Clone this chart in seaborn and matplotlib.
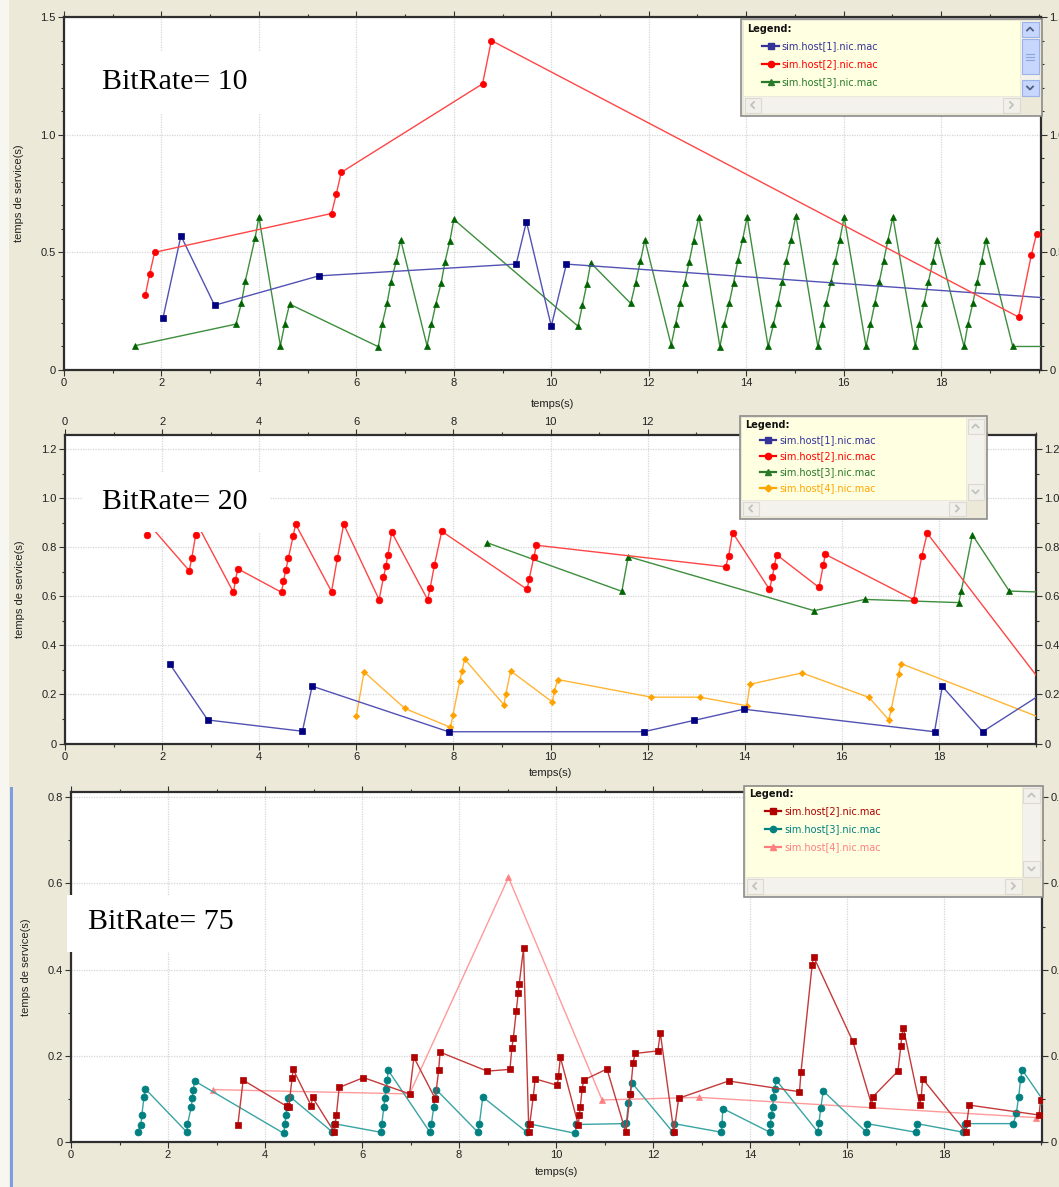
import numpy as np
import pandas as pd
import matplotlib
matplotlib.use("Agg")
import matplotlib.pyplot as plt
import seaborn as sns
from matplotlib.patches import Rectangle
from matplotlib.lines import Line2D
from matplotlib.ticker import MultipleLocator, FuncFormatter

# ---------------- data: panel 1 (BitRate = 10) ----------------
p1_h1_t = [2.03, 2.40, 3.09, 5.23, 9.28, 9.49, 10.00, 10.31, 20.6]
p1_h1_s = [0.22, 0.57, 0.275, 0.40, 0.45, 0.63, 0.186, 0.45, 0.30]

p1_h2_t = [1.67, 1.76, 1.86, 5.49, 5.59, 5.69, 8.59, 8.77, 19.59, 19.85, 19.96]
p1_h2_s = [0.32, 0.41, 0.50, 0.665, 0.75, 0.84, 1.216, 1.40, 0.225, 0.487, 0.58]

p1_h3_t = [1.45, 3.53, 3.64, 3.72, 3.92, 4.00, 4.44, 4.53, 4.63,
           6.45, 6.53, 6.63, 6.71, 6.82, 6.91,
           7.45, 7.54, 7.63, 7.74, 7.82, 7.92, 8.00,
           10.55, 10.64, 10.73, 10.81,
           11.63, 11.73, 11.83, 11.92,
           12.46, 12.55, 12.64, 12.74, 12.83, 12.92, 13.03,
           13.46, 13.55, 13.65, 13.74, 13.83, 13.93, 14.02,
           14.45, 14.56, 14.65, 14.74, 14.82, 14.92, 15.02,
           15.47, 15.56, 15.64, 15.74, 15.83, 15.92, 16.01,
           16.46, 16.55, 16.64, 16.73, 16.82, 16.91, 17.01,
           17.47, 17.55, 17.65, 17.74, 17.83, 17.92,
           18.47, 18.55, 18.65, 18.74, 18.83, 18.92,
           19.47, 20.6]
p1_h3_s = [0.103, 0.195, 0.284, 0.377, 0.56, 0.65, 0.103, 0.195, 0.28,
           0.099, 0.195, 0.284, 0.374, 0.463, 0.553,
           0.103, 0.194, 0.28, 0.37, 0.46, 0.55, 0.64,
           0.186, 0.277, 0.366, 0.455,
           0.283, 0.37, 0.463, 0.553,
           0.106, 0.194, 0.283, 0.37, 0.46, 0.55, 0.65,
           0.099, 0.194, 0.283, 0.37, 0.466, 0.558, 0.65,
           0.10, 0.194, 0.283, 0.374, 0.463, 0.553, 0.656,
           0.10, 0.194, 0.283, 0.374, 0.463, 0.553, 0.65,
           0.10, 0.194, 0.283, 0.374, 0.463, 0.553, 0.65,
           0.10, 0.194, 0.283, 0.374, 0.463, 0.553,
           0.10, 0.194, 0.283, 0.374, 0.463, 0.553,
           0.10, 0.10]

# ---------------- data: panel 2 (BitRate = 20) ----------------
p2_h1_t = [2.16, 2.94, 4.89, 5.09, 7.90, 11.92, 12.95, 13.98, 17.91, 18.07, 18.90, 20.6]
p2_h1_s = [0.324, 0.096, 0.05, 0.234, 0.048, 0.048, 0.094, 0.14, 0.048, 0.233, 0.048, 0.264]

p2_h2_t = [1.69, 1.75, 2.56, 2.61, 2.69, 2.73, 3.47, 3.51, 3.56, 4.46, 4.50, 4.55, 4.60,
           4.70, 4.75, 5.49, 5.61, 5.74, 6.47, 6.56, 6.61, 6.65, 6.73, 7.47, 7.52, 7.61,
           7.76, 9.52, 9.56, 9.66, 9.71, 13.61, 13.67, 13.75, 14.51, 14.57, 14.61, 14.66,
           15.53, 15.62, 15.66, 17.48, 17.65, 17.76, 20.6]
p2_h2_s = [0.851, 0.89, 0.705, 0.756, 0.849, 0.893, 0.617, 0.667, 0.713, 0.617, 0.663, 0.709, 0.756,
           0.847, 0.895, 0.62, 0.756, 0.895, 0.587, 0.679, 0.724, 0.77, 0.862, 0.587, 0.633, 0.729,
           0.866, 0.629, 0.671, 0.763, 0.809, 0.721, 0.767, 0.861, 0.629, 0.679, 0.725, 0.77,
           0.637, 0.728, 0.772, 0.587, 0.767, 0.858, 0.124]

p2_h3_t = [8.70, 11.47, 11.60, 15.43, 16.47, 18.41, 18.46, 18.69, 19.45, 20.6]
p2_h3_s = [0.819, 0.621, 0.763, 0.542, 0.588, 0.575, 0.621, 0.851, 0.622, 0.615]

p2_h4_t = [6.00, 6.16, 7.00, 7.94, 7.99, 8.13, 8.18, 8.23, 9.04, 9.08, 9.18, 10.04, 10.08,
           10.15, 12.08, 13.08, 14.04, 14.11, 15.18, 16.56, 16.97, 17.02, 17.17, 17.22, 20.6]
p2_h4_s = [0.112, 0.292, 0.143, 0.066, 0.116, 0.254, 0.296, 0.345, 0.158, 0.203, 0.296, 0.169, 0.215,
           0.261, 0.189, 0.189, 0.154, 0.242, 0.288, 0.188, 0.096, 0.142, 0.284, 0.326, 0.066]

# ---------------- data: panel 3 (BitRate = 75) ----------------
p3_h2_t = [3.44, 3.55, 4.45, 4.49, 4.56, 4.58, 4.95, 4.98, 5.43, 5.45, 5.47, 5.53, 6.03, 6.98,
           7.07, 7.51, 7.58, 7.61, 8.58, 9.05, 9.09, 9.12, 9.18, 9.22, 9.24, 9.33, 9.44, 9.46,
           9.53, 9.57, 10.03, 10.05, 10.09, 10.46, 10.48, 10.50, 10.54, 10.57, 11.05, 11.44,
           11.53, 11.59, 11.63, 12.10, 12.15, 12.43, 12.53, 13.56, 15.02, 15.05, 15.28, 15.31,
           16.12, 16.51, 16.53, 17.05, 17.11, 17.13, 17.16, 17.50, 17.53, 17.56, 18.45, 18.47,
           18.52, 19.96, 19.99]
p3_h2_s = [0.039, 0.143, 0.082, 0.081, 0.149, 0.168, 0.084, 0.103, 0.022, 0.042, 0.061, 0.126, 0.149, 0.111,
           0.196, 0.10, 0.166, 0.208, 0.164, 0.168, 0.218, 0.241, 0.303, 0.345, 0.366, 0.449, 0.022, 0.042,
           0.104, 0.146, 0.131, 0.153, 0.196, 0.039, 0.061, 0.081, 0.123, 0.143, 0.169, 0.022,
           0.111, 0.184, 0.205, 0.211, 0.253, 0.022, 0.101, 0.141, 0.116, 0.161, 0.41, 0.43,
           0.233, 0.085, 0.104, 0.164, 0.223, 0.246, 0.265, 0.085, 0.104, 0.146, 0.022, 0.044,
           0.085, 0.062, 0.097]

p3_h3_t = [1.375, 1.44, 1.46, 1.505, 1.53, 2.39, 2.40, 2.48, 2.50, 2.52, 2.55, 4.385, 4.41, 4.43,
           4.45, 4.47, 4.52, 5.39, 5.42, 6.385, 6.41, 6.45, 6.47, 6.50, 6.52, 6.54, 7.40, 7.43,
           7.48, 7.50, 7.53, 8.39, 8.42, 8.49, 9.40, 9.42, 10.40, 10.42, 11.41, 11.45, 11.49,
           11.53, 11.57, 12.41, 12.43, 13.41, 13.42, 13.44, 14.41, 14.42, 14.44, 14.47, 14.48,
           14.51, 14.54, 15.40, 15.42, 15.46, 15.51, 16.40, 16.41, 17.42, 17.44, 18.40, 18.44,
           19.43, 19.49, 19.54, 19.58, 19.61, 20.05]
p3_h3_s = [0.022, 0.039, 0.061, 0.104, 0.123, 0.022, 0.04, 0.081, 0.101, 0.121, 0.141, 0.0195, 0.042, 0.061,
           0.081, 0.101, 0.104, 0.0225, 0.042, 0.022, 0.042, 0.081, 0.101, 0.123, 0.143, 0.166, 0.022, 0.041,
           0.081, 0.101, 0.121, 0.022, 0.042, 0.104, 0.022, 0.042, 0.0195, 0.04, 0.042, 0.044, 0.089,
           0.111, 0.136, 0.022, 0.042, 0.022, 0.04, 0.077, 0.022, 0.042, 0.061, 0.081, 0.104,
           0.123, 0.143, 0.0225, 0.043, 0.079, 0.118, 0.022, 0.042, 0.022, 0.042, 0.022, 0.042,
           0.042, 0.066, 0.105, 0.146, 0.167, 0.095]

p3_h4_t = [2.93, 6.98, 9.02, 10.95, 12.95, 19.90]
p3_h4_s = [0.121, 0.111, 0.614, 0.097, 0.103, 0.056]

host_names = ["sim.host[1].nic.mac", "sim.host[2].nic.mac", "sim.host[3].nic.mac", "sim.host[4].nic.mac"]
panel_titles = ["BitRate= 10", "BitRate= 20", "BitRate= 75"]
x_label = "temps(s)"
y_label = "temps de service(s)"

# ---------------- style ----------------
W, H = 1059, 1187
BG = "#ECE9D8"
plt.rcParams["font.family"] = ["Liberation Sans", "DejaVu Sans"]
plt.rcParams["font.size"] = 7.5

fig = plt.figure(figsize=(W / 100, H / 100), dpi=100, facecolor=BG)


def fx(x):
    return x / W


def fy(y):
    return 1 - y / H


def rect_px(x0, y0, x1, y1, **kw):
    r = Rectangle((fx(x0), fy(y1)), (x1 - x0) / W, (y1 - y0) / H,
                  transform=fig.transFigure, **kw)
    fig.add_artist(r)
    return r


def line_px(xs, ys, **kw):
    l = Line2D([fx(v) for v in xs], [fy(v) for v in ys], transform=fig.transFigure, **kw)
    fig.add_artist(l)
    return l


# left strip and selection bar
rect_px(0, 0, 9, H, facecolor="#F7F6F1", edgecolor="none")
rect_px(9.5, 787, 12.5, H, facecolor="#7E9CE2", edgecolor="none")

# axes geometry in pixels (left, top, right, bottom)
geo = [(64, 17, 1041, 370), (65, 435, 1036, 743.5), (71, 792, 1042, 1141.7)]
ylims = [(0, 1.5), (0, 1.259), (0, 0.8125)]
xlims = [(0, 20.05), (0, 20.0), (0, 20.02)]
ymajor = [0.5, 0.2, 0.2]
yminor = [0.1, 0.1, 0.1]

axes = []
for (l, t, r, b) in geo:
    ax = fig.add_axes([fx(l), fy(b), (r - l) / W, (b - t) / H])
    ax.set_facecolor("white")
    axes.append(ax)


def yfmt(v, pos):
    if abs(v) < 1e-9:
        return "0"
    return f"{v:.1f}"


for i, ax in enumerate(axes):
    ax.set_xlim(*xlims[i])
    ax.set_ylim(*ylims[i])
    ax.set_xticks(np.arange(0, 19, 2))
    ax.xaxis.set_minor_locator(MultipleLocator(1))
    ax.yaxis.set_major_locator(MultipleLocator(ymajor[i]))
    ax.yaxis.set_minor_locator(MultipleLocator(yminor[i]))
    ax.yaxis.set_major_formatter(FuncFormatter(yfmt))
    ax.grid(True, which="major", color="#D6D6D6", linestyle=(0, (1, 1)), linewidth=0.9, zorder=0)
    ax.set_axisbelow(True)
    ax.tick_params(which="both", direction="out", color="#333333", labelcolor="#222222",
                   top=True, right=True, labelright=True, labelsize=8, width=0.8)
    ax.tick_params(which="major", length=4, pad=2)
    ax.tick_params(which="minor", length=2.5)
    for s in ax.spines.values():
        s.set_color("#2E2E2E")
        s.set_linewidth(1.6)

axes[1].tick_params(labeltop=True)

# ---------------- plotting with seaborn ----------------
def draw(ax, t, s, line_c, mk_c, marker, ms, z=3):
    df = pd.DataFrame({"t": t, "s": s})
    sns.lineplot(data=df, x="t", y="s", ax=ax, estimator=None, sort=False,
                 color=line_c, linewidth=1.0, marker=marker, markersize=ms,
                 markerfacecolor=mk_c, markeredgecolor=mk_c, markeredgewidth=0.5,
                 zorder=z, legend=False)


C1 = ("#5252B4", "#000080")
C2 = ("#FF4545", "#FF0000")
C3 = ("#3E8E3E", "#006400")
C4 = ("#FFB535", "#FFA200")
D2 = ("#C43A3A", "#B00000")
D3 = ("#3AA3A3", "#008080")
D4 = ("#FF9A9A", "#FF7F7F")

draw(axes[0], p1_h3_t, p1_h3_s, *C3, "^", 5.0, 3)
draw(axes[0], p1_h1_t, p1_h1_s, *C1, "s", 4.5, 4)
draw(axes[0], p1_h2_t, p1_h2_s, *C2, "o", 4.5, 5)

draw(axes[1], p2_h4_t, p2_h4_s, *C4, "D", 3.2, 3)
draw(axes[1], p2_h3_t, p2_h3_s, *C3, "^", 4.5, 4)
draw(axes[1], p2_h1_t, p2_h1_s, *C1, "s", 4.5, 5)
draw(axes[1], p2_h2_t, p2_h2_s, *C2, "o", 4.8, 6)

draw(axes[2], p3_h4_t, p3_h4_s, *D4, "^", 4.8, 3)
draw(axes[2], p3_h3_t, p3_h3_s, *D3, "o", 5.0, 4)
draw(axes[2], p3_h2_t, p3_h2_s, *D2, "s", 5.0, 5)

# top labels of panel 2 that sit under the legend box are hidden there
for tick in axes[1].xaxis.get_major_ticks():
    if tick.get_loc() >= 13:
        tick.label2.set_visible(False)

# axis labels
xlab_y = [404, 773, 1172]
ylab_x = [19, 20, 26]
for i, ax in enumerate(axes):
    l, t, r, b = geo[i]
    ax.set_xlabel(x_label, fontsize=8, color="#222222")
    ax.xaxis.set_label_coords(((l + r) / 2 - l) / (r - l), (b - xlab_y[i]) / (b - t))
    ax.xaxis.label.set_va("center")
    ax.set_ylabel(y_label, fontsize=8, color="#222222")
    ax.yaxis.set_label_coords((ylab_x[i] - l) / (r - l), 0.5)
    ax.yaxis.label.set_va("center")

# BitRate overlay boxes
boxes = [(83, 52, 270, 113, 102, 82), (83, 473, 270, 532, 102, 502), (67, 895, 255, 952, 88, 922)]
for (x0, y0, x1, y1, tx, ty), txt in zip(boxes, panel_titles):
    rect_px(x0, y0, x1, y1, facecolor="white", edgecolor="none", zorder=5)
    fig.text(fx(tx), fy(ty), txt, family="Liberation Serif", fontsize=21.5,
             ha="left", va="center", color="black", zorder=6)

# ---------------- legends ----------------
def chevron(cx, cy, direction, color, size=3.0):
    if direction == "up":
        line_px([cx - size, cx, cx + size], [cy + size / 2, cy - size / 2, cy + size / 2], color=color, lw=1.3, zorder=9)
    elif direction == "down":
        line_px([cx - size, cx, cx + size], [cy - size / 2, cy + size / 2, cy - size / 2], color=color, lw=1.3, zorder=9)
    elif direction == "left":
        line_px([cx + size / 2, cx - size / 2, cx + size / 2], [cy - size, cy, cy + size], color=color, lw=1.3, zorder=9)
    else:
        line_px([cx - size / 2, cx + size / 2, cx - size / 2], [cy - size, cy, cy + size], color=color, lw=1.3, zorder=9)


def draw_legend(outer, inner, entries, title_y, rows_y, hx0, hx1, tx, active):
    ox0, oy0, ox1, oy1 = outer
    ix0, iy0, ix1, iy1 = inner
    rect_px(ox0, oy0, ox1, oy1, facecolor=BG, edgecolor="#8C8C8C", lw=1.2, zorder=7)
    rect_px(ix0, iy0, ix1, iy1, facecolor="#FFFFE1", edgecolor="none", zorder=8)
    # vertical scrollbar
    vx0, vx1 = ix1 + 1, ox1 - 3
    rect_px(vx0, iy0, vx1, iy1, facecolor="#F3F2EC", edgecolor="none", zorder=8)
    if active:
        bc, ec, ac = "#C6D6FC", "#9DB3E8", "#4D6185"
    else:
        bc, ec, ac = "#F1F0EA", "#DCDAD0", "#C2C1BA"
    rect_px(vx0 + 0.5, iy0 + 0.5, vx1 - 0.5, iy0 + 16, facecolor=bc, edgecolor=ec, lw=0.8, zorder=8)
    rect_px(vx0 + 0.5, iy1 - 16, vx1 - 0.5, iy1 - 0.5, facecolor=bc, edgecolor=ec, lw=0.8, zorder=8)
    chevron((vx0 + vx1) / 2, iy0 + 8, "up", ac)
    chevron((vx0 + vx1) / 2, iy1 - 8, "down", ac)
    if active:
        rect_px(vx0 + 0.5, iy0 + 18, vx1 - 0.5, iy1 - 22, facecolor="#C6D6FC", edgecolor="#9DB3E8", lw=0.8, zorder=8)
        my = (iy0 + 18 + iy1 - 22) / 2
        for dy in (-3, 0, 3):
            line_px([vx0 + 5, vx1 - 5], [my + dy, my + dy], color="#8FA6DB", lw=0.8, zorder=9)
    # horizontal scrollbar
    hy0, hy1 = iy1 + 1, oy1 - 3
    rect_px(ix0, hy0, ix1, hy1, facecolor="#F3F2EC", edgecolor="none", zorder=8)
    rect_px(ix0 + 0.5, hy0 + 0.5, ix0 + 17, hy1 - 0.5, facecolor="#F1F0EA", edgecolor="#DCDAD0", lw=0.8, zorder=8)
    rect_px(ix1 - 17, hy0 + 0.5, ix1 - 0.5, hy1 - 0.5, facecolor="#F1F0EA", edgecolor="#DCDAD0", lw=0.8, zorder=8)
    chevron(ix0 + 8.5, (hy0 + hy1) / 2, "left", "#C2C1BA")
    chevron(ix1 - 8.5, (hy0 + hy1) / 2, "right", "#C2C1BA")
    # title and entries
    fig.text(fx(ix0 + 3), fy(title_y), "Legend:", family="DejaVu Sans", fontsize=7,
             fontweight="bold", color="#111111", ha="left", va="center", zorder=10)
    for (name, lc, mc, mk, ms), ry in zip(entries, rows_y):
        line_px([hx0, hx1], [ry, ry], color=mc, lw=1.6, zorder=10)
        line_px([(hx0 + hx1) / 2], [ry], color=mc, marker=mk, markersize=ms, lw=0, zorder=11)
        fig.text(fx(tx), fy(ry), name, family="DejaVu Sans", fontsize=7, color=mc,
                 ha="left", va="center", zorder=10)


draw_legend((741, 19, 1042, 116), (744, 21, 1020, 96),
            [(host_names[0], C1[0], "#333399", "s", 4.5),
             (host_names[1], C2[0], "#FF0000", "o", 4.5),
             (host_names[2], C3[0], "#2A7A2A", "^", 5)],
            29, [46, 64, 82], 762, 779, 781, True)

draw_legend((740, 416, 987, 519), (742, 418, 966, 500),
            [(host_names[0], C1[0], "#333399", "s", 4.5),
             (host_names[1], C2[0], "#FF0000", "o", 4.5),
             (host_names[2], C3[0], "#2A7A2A", "^", 5),
             (host_names[3], C4[0], "#FFA500", "D", 3.5)],
            425, [440, 456, 472, 488], 760, 776, 779, False)

draw_legend((744, 786, 1043, 897), (746, 787, 1022, 877),
            [(host_names[1], D2[0], "#B00000", "s", 4.5),
             (host_names[2], D3[0], "#008080", "o", 4.5),
             (host_names[3], D4[0], "#FF7F7F", "^", 5)],
            794, [811, 829, 847], 765, 781, 784, False)

fig.savefig("out.png", dpi=100, facecolor=BG)
